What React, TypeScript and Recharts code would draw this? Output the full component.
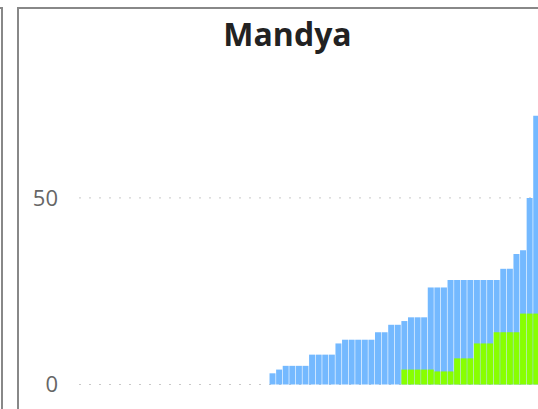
import React from "react";
import { Bar, BarChart, CartesianGrid, XAxis, YAxis } from "recharts";

// 29 quiet days before the first case, then 41 days of cumulative counts
const totalCases = [
  0, 0, 0, 0, 0, 0, 0, 0, 0, 0, 0, 0, 0, 0, 0, 0, 0, 0, 0, 0, 0, 0, 0, 0, 0, 0, 0, 0, 0,
  3, 4, 5, 5, 5, 5, 8, 8, 8, 8, 11, 12, 12, 12, 12, 12, 14, 14, 16, 16, 17, 18, 18, 18,
  26, 26, 26, 28, 28, 28, 28, 28, 28, 28, 28, 31, 31, 35, 36, 50, 72,
];

const recovered = [
  0, 0, 0, 0, 0, 0, 0, 0, 0, 0, 0, 0, 0, 0, 0, 0, 0, 0, 0, 0, 0, 0, 0, 0, 0, 0, 0, 0, 0,
  0, 0, 0, 0, 0, 0, 0, 0, 0, 0, 0, 0, 0, 0, 0, 0, 0, 0, 0, 0, 4, 4, 4, 4, 4,
  3.5, 3.5, 3.5, 7, 7, 7, 11, 11, 11, 14, 14, 14, 14, 19, 19, 19, 19,
];

const days = totalCases.map((_, i) => `Day ${i + 1}`);
const yTicks = [0, 50];

const data = days.map((day, i) => ({
  day,
  total: totalCases[i],
  recovered: recovered[i],
}));

export default function App() {
  return (
    <div
      style={{
        position: "absolute",
        left: 0,
        top: 0,
        width: 538,
        height: 409,
        overflow: "hidden",
        background: "#fff",
        fontFamily: "'Open Sans', sans-serif",
      }}
    >
      {/* edge of the neighbouring panel */}
      <div style={{ position: "absolute", left: 0, top: 7, width: 3, height: 2, background: "#888" }} />
      <div style={{ position: "absolute", left: 1, top: 7, width: 2, height: 410, background: "#888" }} />
      {/* this panel's frame */}
      <div
        style={{
          position: "absolute",
          left: 17,
          top: 7,
          width: 600,
          height: 500,
          borderLeft: "2px solid #888",
          borderTop: "2px solid #888",
        }}
      />
      <div
        style={{
          position: "absolute",
          left: 17,
          width: 541,
          top: 17.5,
          lineHeight: "32px",
          fontSize: 32,
          fontWeight: 700,
          textAlign: "center",
          color: "#222",
        }}
      >
        Mandya
      </div>
      <div style={{ position: "absolute", left: 0, top: 0 }}>
        <BarChart
          width={560}
          height={420}
          data={data}
          margin={{ top: 71, right: 20.5, bottom: 35.5, left: 0 }}
          barCategoryGap="5%"
        >
          <CartesianGrid
            xAxisId="a"
            vertical={false}
            horizontalValues={yTicks}
            stroke="#c8c8c8"
            strokeDasharray="2 8"
            strokeDashoffset={-1}
          />
          <XAxis dataKey="day" xAxisId="a" hide />
          <XAxis dataKey="day" xAxisId="b" hide />
          <YAxis
            width={78}
            domain={[0, 84]}
            ticks={yTicks}
            axisLine={false}
            tickLine={false}
            tickSize={0}
            tickMargin={20}
            tick={{ fill: "#666", fontSize: 22, fontFamily: "'Open Sans', sans-serif" }}
          />
          <Bar dataKey="total" xAxisId="a" fill="#74b9ff" isAnimationActive={false} />
          <Bar dataKey="recovered" xAxisId="b" fill="#88ff00" isAnimationActive={false} />
        </BarChart>
      </div>
    </div>
  );
}
